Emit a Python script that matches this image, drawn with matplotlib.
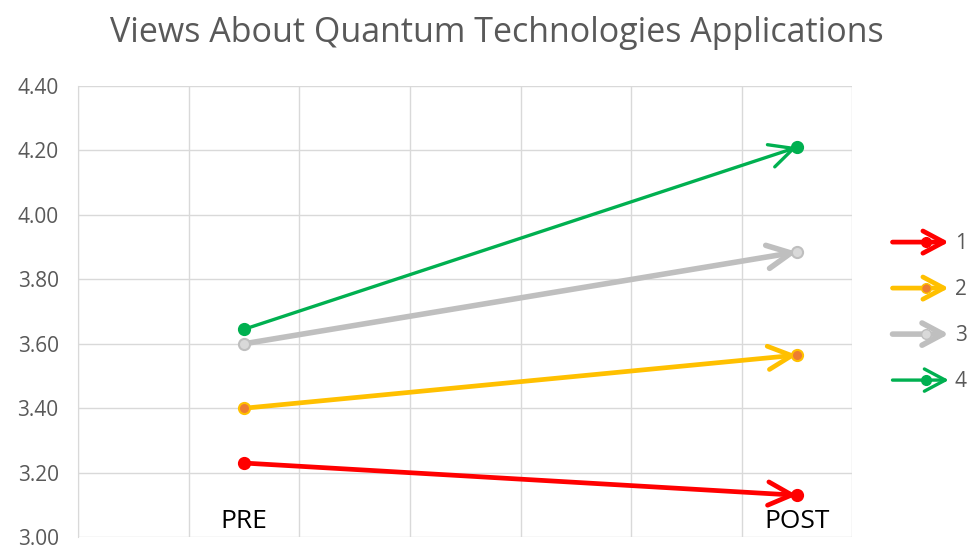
import matplotlib
matplotlib.use('Agg')
import matplotlib.pyplot as plt
from matplotlib.patches import FancyArrowPatch
from matplotlib.legend_handler import HandlerBase
from matplotlib.lines import Line2D

plt.rcParams['font.family'] = ['Open Sans', 'DejaVu Sans']

# data
STAGES = ['PRE', 'POST']
STAGE_X = [1.5, 6.5]
SERIES = ['1', '2', '3', '4']
PRE = [3.23, 3.40, 3.60, 3.645]
POST = [3.13, 3.565, 3.885, 4.21]

# styles per series: line colour, marker face, marker edge, line width
COLORS = ['#FF0000', '#FFC000', '#BFBFBF', '#00B050']
FACES = ['#FF0000', '#ED7D31', '#D9D9D9', '#00B050']
EDGES = ['#FF0000', '#FFC000', '#BFBFBF', '#00B050']
WIDTHS = [3.4, 3.4, 4.0, 2.4]


class ArrowHandler(HandlerBase):
    def create_artists(self, legend, orig_handle, xdescent, ydescent,
                       width, height, fontsize, trans):
        y = height / 2 - ydescent
        x0, x1 = -xdescent, width - xdescent
        arr = FancyArrowPatch((x0, y), (x1, y),
                              arrowstyle='->,head_length=0.75,head_width=0.4',
                              mutation_scale=20, color=orig_handle.get_color(),
                              lw=orig_handle.get_linewidth(),
                              shrinkA=0, shrinkB=0, transform=trans)
        dot = Line2D([x0 + 0.6 * (x1 - x0)], [y], marker='o', ls='none',
                     markersize=7, markerfacecolor=orig_handle.get_markerfacecolor(),
                     markeredgecolor=orig_handle.get_markeredgecolor(),
                     transform=trans)
        return [arr, dot]


fig = plt.figure(figsize=(9.68, 5.47), dpi=100)
ax = fig.add_axes([0.0806, 0.018, 0.8, 0.8248])

handles = []
for i, name in enumerate(SERIES):
    xs = STAGE_X
    ys = [PRE[i], POST[i]]
    arrow = FancyArrowPatch((xs[0], ys[0]), (xs[1], ys[1]),
                            arrowstyle='->,head_length=0.85,head_width=0.42',
                            mutation_scale=20, color=COLORS[i], lw=WIDTHS[i],
                            shrinkA=0, shrinkB=0, zorder=3,
                            capstyle='round', joinstyle='round')
    ax.add_patch(arrow)
    ax.plot(xs, ys, ls='none', marker='o', markersize=8,
            markerfacecolor=FACES[i], markeredgecolor=EDGES[i],
            markeredgewidth=1.5, zorder=4)
    handles.append(Line2D([], [], color=COLORS[i], lw=WIDTHS[i],
                          markerfacecolor=FACES[i], markeredgecolor=EDGES[i]))

for x, label in zip(STAGE_X, STAGES):
    ax.text(x, 3.05, label, ha='center', va='center', fontsize=19,
            color='black', zorder=5)

ax.set_xlim(0, 7)
ax.set_ylim(3.0, 4.4)
ax.set_xticks(range(0, 8))
ax.set_xticklabels([])
ax.set_yticks([3.0 + 0.2 * k for k in range(8)])
ax.set_yticklabels([f'{3.0 + 0.2 * k:.2f}' for k in range(8)])
ax.tick_params(axis='both', length=0, colors='#595959', labelsize=15, pad=14)
ax.grid(True, color='#D9D9D9', lw=1)
ax.set_axisbelow(True)
for side in ['top', 'right', 'bottom']:
    ax.spines[side].set_visible(False)
ax.spines['left'].set_color('#D9D9D9')

fig.suptitle('Views About Quantum Technologies Applications', x=0.513, y=0.97,
             fontsize=24.5, color='#595959')

fig.legend(handles, SERIES, handler_map={Line2D: ArrowHandler()},
           loc='center left', bbox_to_anchor=(0.922, 0.428), frameon=False,
           fontsize=15, labelcolor='#595959', handlelength=2.7,
           labelspacing=1.2, handletextpad=0.3, borderpad=0, borderaxespad=0)

fig.savefig('out.png', dpi=100)
